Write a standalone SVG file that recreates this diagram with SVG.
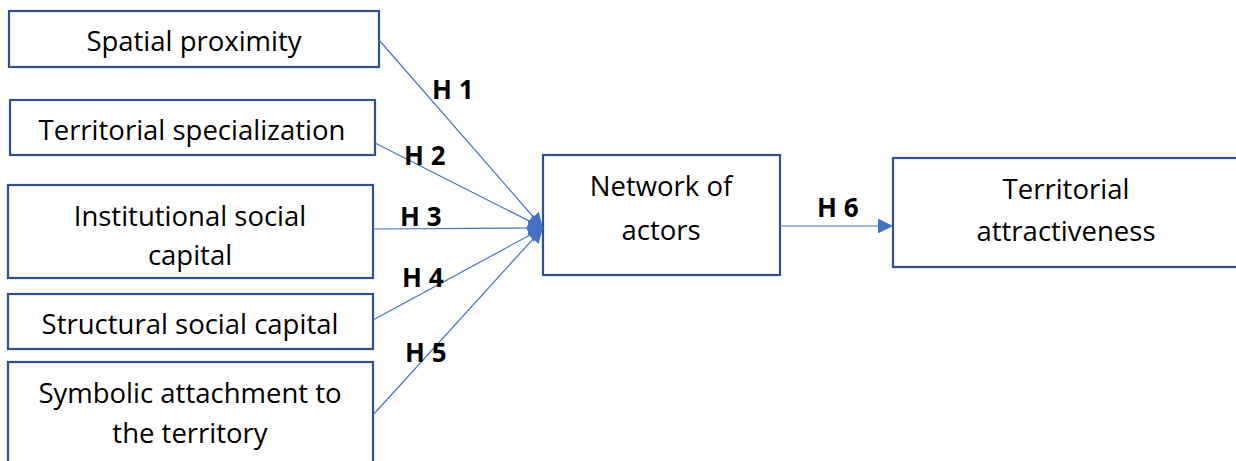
<svg xmlns="http://www.w3.org/2000/svg" width="1236" height="461" viewBox="0 0 1236 461">
<style>
.box{fill:#fff;stroke:#2F528F;stroke-width:2.2}
.t{font-family:"Open Sans","Liberation Sans",sans-serif;font-size:27.5px;fill:#000;text-anchor:middle}
.h{font-family:"Open Sans","Liberation Sans",sans-serif;font-size:26px;font-weight:bold;fill:#000}
.c{stroke:#4472C4;stroke-width:1.2;fill:none}
</style>
<defs>
<marker id="ah" viewBox="0 0 10 10" refX="10" refY="5" markerWidth="15" markerHeight="15" markerUnits="userSpaceOnUse" orient="auto">
<path d="M0,0 L10,5 L0,10 z" fill="#4472C4"/>
</marker>
</defs>
<g id="n1"><rect class="box" x="9" y="11" width="370" height="56"/><text class="t" x="194" y="51">Spatial proximity</text></g>
<g id="n2"><rect class="box" x="10" y="100" width="365" height="55"/><text class="t" x="192" y="140">Territorial specialization</text></g>
<g id="n3"><rect class="box" x="8" y="185" width="365" height="93"/><text class="t" x="190" y="226">Institutional social</text><text class="t" x="190" y="265">capital</text></g>
<g id="n4"><rect class="box" x="8" y="294" width="365" height="55"/><text class="t" x="190" y="334">Structural social capital</text></g>
<g id="n5"><rect class="box" x="8" y="362" width="365" height="110"/><text class="t" x="190" y="403">Symbolic attachment to</text><text class="t" x="190" y="443">the territory</text></g>
<g id="n6"><rect class="box" x="543" y="155" width="237" height="120"/><text class="t" x="661" y="196">Network of</text><text class="t" x="661" y="240">actors</text></g>
<g id="n7"><rect class="box" x="893" y="158" width="350" height="109"/><text class="t" x="1066" y="199">Territorial</text><text class="t" x="1066" y="241">attractiveness</text></g>
<g id="connectors">
<line class="c" x1="379" y1="40" x2="543" y2="228" marker-end="url(#ah)"/>
<line class="c" x1="375" y1="143" x2="543" y2="228" marker-end="url(#ah)"/>
<line class="c" x1="373" y1="229" x2="543" y2="228" marker-end="url(#ah)"/>
<line class="c" x1="373" y1="320" x2="543" y2="228" marker-end="url(#ah)"/>
<line class="c" x1="373" y1="415" x2="543" y2="228" marker-end="url(#ah)"/>
<line class="c" x1="780" y1="226" x2="893" y2="226" marker-end="url(#ah)"/>
</g>
<g id="labels">
<text class="h" x="432" y="99">H 1</text>
<text class="h" x="404" y="165">H 2</text>
<text class="h" x="400" y="226">H 3</text>
<text class="h" x="402" y="287">H 4</text>
<text class="h" x="405" y="362">H 5</text>
<text class="h" x="817" y="217">H 6</text>
</g>
</svg>
